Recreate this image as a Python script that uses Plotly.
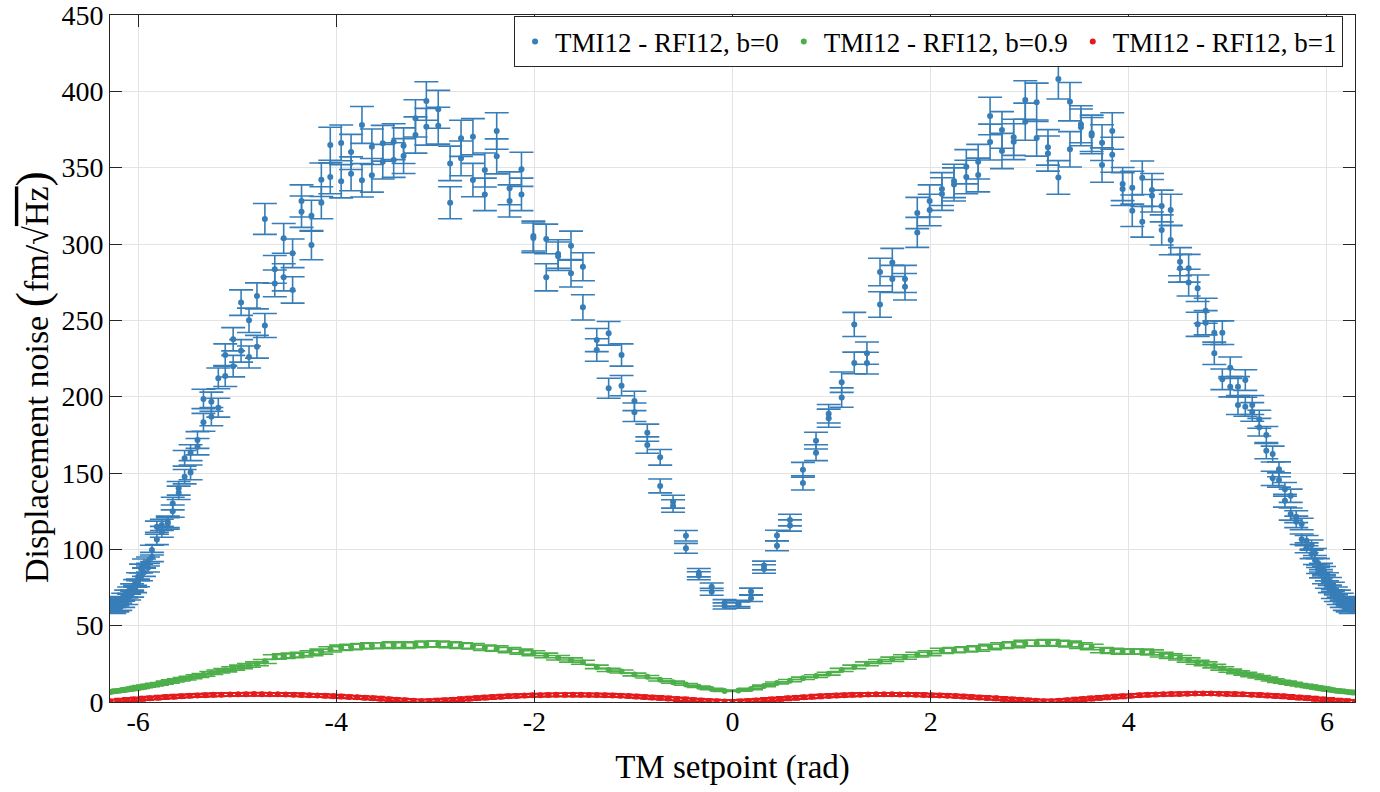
import plotly.graph_objects as go

# ---------------- data ----------------
setpoint_x = [
    -6.28, -6.26, -6.24, -6.21, -6.18, -6.15, -6.12, -6.09, -6.06, -6.03,
    -6.00, -5.97, -5.94, -5.90, -5.86, -5.81, -5.76, -5.70, -5.65, -5.59,
    -5.53, -5.47, -5.40, -5.34, -5.26, -5.19, -5.12, -5.04, -4.96, -4.88,
    -4.80, -4.72, -4.62, -4.53, -4.44, -4.35, -4.25, -4.15, -4.06, -3.95,
    -3.85, -3.74, -3.64, -3.53, -3.42, -3.32, -3.20, -3.09, -2.97, -2.85,
    -2.74, -2.62, -2.50, -2.38, -2.25, -2.13, -2.01, -1.88, -1.76, -1.63,
    -1.51, -1.37, -1.25, -1.12, -0.99, -0.86, -0.73, -0.60, -0.47, -0.34,
    -0.21, -0.08, 0.06, 0.187, 0.318, 0.449, 0.580, 0.711, 0.843, 0.971,
    1.102, 1.229, 1.357, 1.489, 1.613, 1.741, 1.865, 1.99, 2.114, 2.236,
    2.36, 2.48, 2.60, 2.72, 2.838, 2.955, 3.07, 3.184, 3.289, 3.406,
    3.517, 3.625, 3.73, 3.833, 3.938, 4.035, 4.136, 4.234, 4.332, 4.423,
    4.517, 4.604, 4.695, 4.776, 4.863, 4.944, 5.024, 5.102, 5.176, 5.246,
    5.317, 5.388, 5.452, 5.516, 5.576, 5.634, 5.69, 5.745, 5.795, 5.845,
    5.879, 5.91, 5.94, 5.97, 6.00, 6.03, 6.06, 6.09, 6.12, 6.15,
    6.18, 6.21, 6.24, 6.26, 6.28,
]

blue_run1 = [
    63, 64, 65, 66, 67, 69, 71, 73, 75, 77.7,
    82, 87.5, 90.8, 92, 99.5, 106.5, 111.5, 118, 130, 140,
    159.6, 163.3, 171.6, 198.5, 196.7, 212, 227.3, 237.6, 261.6, 250,
    266, 316.4, 283.4, 303.7, 293.9, 328.2, 318.5, 342.1, 364.8, 366.2,
    360.3, 378, 363.7, 366, 367, 364.4, 382.3, 393.7, 388.2, 352.8,
    369.2, 370.3, 348.5, 374, 336.5, 348.9, 305.2, 303.3, 293.4, 298.9,
    285.1, 237.1, 241.5, 227.3, 197.2, 176.4, 160.3, 131.2, 108.9, 84.7,
    75.5, 62.9, 64.6, 72.3, 89.4, 109, 119.2, 152.1, 171.2, 188.8,
    209.5, 247.3, 228.5, 281.7, 287.9, 277.1, 320.3, 328.2, 336, 341.3,
    350.6, 353.9, 383.8, 374.7, 369.9, 394.3, 392.8, 363.3, 408, 393.2,
    378.4, 372.5, 366.4, 374, 339.3, 336.9, 343.4, 335.4, 324.9, 322.3,
    288.4, 284.1, 271, 256.3, 241.9, 241.9, 219, 206.5, 210.9, 194.5,
    185.2, 174.9, 162.4, 152.4, 139.3, 135.1, 121.4, 116.6, 105.7, 102.8,
    97.4, 91, 88, 86, 82, 79, 76, 73, 71, 69,
    67, 66, 65, 64, 63,
]

blue_run2 = [
    66, 61, 60, 61, 62, 64, 66, 69, 71, 74,
    78, 82, 85, 88, 95, 114.8, 116, 117, 125, 137,
    147.6, 150.4, 167.2, 183.2, 186.9, 192.8, 213.5, 220, 230, 226,
    232.7, 246.6, 274.2, 278.2, 269.9, 321.2, 299.3, 327, 343.9, 341.1,
    346, 341.7, 345, 353.9, 355, 357.6, 371.4, 376.8, 377.5, 327,
    356.1, 341.9, 332.5, 357.4, 328.2, 332.5, 304, 278.2, 292, 280.8,
    258.5, 230.6, 205.5, 207.2, 189.8, 168.3, 141.5, 128.4, 100.7, 82.7,
    72.2, 65, 63.5, 68, 87.1, 102.3, 115.6, 143.5, 163.3, 185.9,
    199.4, 222.1, 222, 260.4, 277.1, 272, 307.6, 322.3, 332.7, 339,
    343.9, 345.2, 366.8, 360.9, 367, 380.1, 369.4, 359.2, 343.6, 362,
    376.4, 371, 351.7, 358.5, 336, 321.8, 314.6, 331.6, 309.2, 302.6,
    284.1, 274.7, 247.4, 248.4, 228.4, 211.4, 206.5, 194.5, 193.4, 190,
    180, 164.6, 146.5, 145.4, 131.9, 123.1, 118, 106.6, 101, 97,
    93, 87, 84, 80, 77, 74, 70, 68, 66, 64,
    62, 61, 60, 62, 66,
]

green_vals = [
    6.5, 6.8, 7, 7.2, 7.5, 7.8, 8, 8.3, 8.7, 9,
    9.3, 9.8, 10.2, 10.6, 11, 11.6, 12.2, 13, 13.8, 14.5,
    15.2, 16, 17, 17.8, 19, 20, 20.8, 22, 23, 24,
    25, 26.5, 29.5, 30, 30.5, 31, 32, 33, 34.5, 35.5,
    36, 36.5, 37, 37, 37.5, 37, 37.5, 38, 38, 37.5,
    37, 36.5, 35.5, 35, 34, 33, 32, 30.5, 29, 27.5,
    26, 23, 21, 20, 18, 16.5, 14.5, 13, 11.5, 10,
    8.5, 7.2, 7.5, 8.5, 10.5, 12.5, 14, 15.5, 17, 18.5,
    21, 23, 25, 26.5, 28, 29.5, 31, 32, 33.5, 34,
    34.5, 35, 36, 37, 37.5, 38.5, 38.5, 39, 38.5, 38,
    37, 36, 34, 33.5, 33, 33, 33, 32.5, 31, 30,
    29, 27.5, 26, 25, 23.5, 22, 20.5, 19.5, 18.5, 17.5,
    16.5, 15.5, 14.5, 13.5, 13, 12.3, 11.5, 11, 10.5, 10,
    9.7, 9.4, 9, 8.6, 8.3, 8, 7.7, 7.4, 7.2, 7,
    6.8, 6.6, 6.4, 6.3, 6.2,
]

red_x = [
    -6.28, -6.20, -6.12, -6.04, -5.96, -5.88, -5.80, -5.72, -5.64, -5.56,
    -5.48, -5.40, -5.32, -5.24, -5.16, -5.07, -4.99, -4.91, -4.83, -4.75,
    -4.67, -4.59, -4.51, -4.43, -4.35, -4.27, -4.19, -4.11, -4.03, -3.95,
    -3.87, -3.79, -3.71, -3.63, -3.55, -3.47, -3.39, -3.31, -3.22, -3.14,
    -3.06, -2.98, -2.90, -2.82, -2.74, -2.66, -2.58, -2.50, -2.42, -2.34,
    -2.26, -2.18, -2.10, -2.02, -1.94, -1.86, -1.78, -1.69, -1.61, -1.53,
    -1.45, -1.37, -1.29, -1.21, -1.13, -1.05, -0.97, -0.89, -0.81, -0.73,
    -0.65, -0.56, -0.48, -0.40, -0.32, -0.24, -0.16, -0.08, 0.00, 0.08,
    0.16, 0.24, 0.32, 0.40, 0.48, 0.56, 0.64, 0.72, 0.80, 0.89,
    0.97, 1.05, 1.13, 1.21, 1.29, 1.37, 1.45, 1.53, 1.61, 1.69,
    1.77, 1.85, 1.93, 2.01, 2.09, 2.17, 2.25, 2.33, 2.41, 2.49,
    2.57, 2.66, 2.74, 2.82, 2.90, 2.98, 3.06, 3.14, 3.22, 3.30,
    3.38, 3.46, 3.54, 3.62, 3.70, 3.78, 3.86, 3.94, 4.02, 4.11,
    4.19, 4.27, 4.35, 4.43, 4.51, 4.59, 4.67, 4.75, 4.83, 4.91,
    4.99, 5.07, 5.15, 5.24, 5.32, 5.40, 5.48, 5.56, 5.64, 5.72,
    5.80, 5.88, 5.96, 6.04, 6.12, 6.20, 6.28,
]

red_vals = [
    0.4, 0.8, 1.3, 1.7, 2.1, 2.5, 2.8, 3.2, 3.5, 3.8,
    4.1, 4.3, 4.5, 4.7, 4.8, 4.9, 5.0, 5.1, 5.2, 5.1,
    5.1, 5.0, 4.9, 4.8, 4.6, 4.4, 4.3, 4.1, 3.8, 3.6,
    3.3, 3.1, 2.8, 2.5, 2.1, 1.8, 1.4, 1.1, 0.8, 0.5,
    0.6, 0.9, 1.2, 1.5, 1.8, 2.2, 2.5, 2.9, 3.2, 3.5,
    3.8, 4.0, 4.2, 4.4, 4.5, 4.6, 4.7, 4.7, 4.7, 4.7,
    4.6, 4.6, 4.5, 4.3, 4.1, 3.9, 3.6, 3.3, 3.0, 2.7,
    2.3, 2.0, 1.6, 1.3, 1.0, 0.7, 0.5, 0.3, 0.2, 0.4,
    0.7, 1.0, 1.3, 1.7, 2.0, 2.4, 2.8, 3.1, 3.4, 3.8,
    4.0, 4.3, 4.5, 4.7, 4.8, 4.9, 5.0, 5.0, 5.0, 4.9,
    4.9, 4.8, 4.6, 4.5, 4.3, 4.1, 3.9, 3.6, 3.3, 3.0,
    2.7, 2.4, 2.0, 1.7, 1.4, 1.0, 0.8, 0.5, 0.5, 0.8,
    1.1, 1.5, 1.9, 2.3, 2.7, 3.1, 3.4, 3.8, 4.1, 4.4,
    4.7, 4.9, 5.1, 5.2, 5.3, 5.4, 5.5, 5.5, 5.5, 5.4,
    5.3, 5.2, 5.0, 4.8, 4.6, 4.3, 4.0, 3.7, 3.3, 2.9,
    2.5, 2.1, 1.7, 1.3, 0.9, 0.5, 0.2,
]

blue_rel_err_pct = 3.2     # relative uncertainty of b=0 points (%)
green_rel_err_pct = 5.0    # relative uncertainty of b=0.9 points (%)
red_abs_err = 1.0          # uncertainty of b=1 points

x_tick_vals = [-6, -4, -2, 0, 2, 4, 6]
x_tick_text = ["-6", "-4", "-2", "0", "2", "4", "6"]
y_tick_vals = [0, 50, 100, 150, 200, 250, 300, 350, 400, 450]

series_names = ["TMI12 - RFI12, b=0", "TMI12 - RFI12, b=0.9", "TMI12 - RFI12, b=1"]
x_title = "TM setpoint (rad)"
y_title = ("Displacement noise <span style='font-size:46px'>(</span>fm/√"
           "<span style='text-decoration:overline'>Hz</span>"
           "<span style='font-size:46px'>)</span>")

# ---------------- styling ----------------
BLUE = "#377eb8"
GREEN = "#4daf4a"
RED = "#e41a1c"
FONT = "Liberation Serif"
AXC = "#262626"

fig = go.Figure()

fig.add_trace(go.Scatter(
    x=setpoint_x + setpoint_x,
    y=blue_run1 + blue_run2,
    mode="markers",
    name=series_names[0],
    marker=dict(color=BLUE, size=6),
    error_y=dict(type="percent", value=blue_rel_err_pct, color=BLUE,
                 thickness=1.6, width=12),
))

fig.add_trace(go.Scatter(
    x=setpoint_x,
    y=green_vals,
    mode="markers",
    name=series_names[1],
    marker=dict(color=GREEN, size=6),
    error_y=dict(type="percent", value=green_rel_err_pct, color=GREEN,
                 thickness=1.6, width=12),
))

fig.add_trace(go.Scatter(
    x=red_x,
    y=red_vals,
    mode="markers",
    name=series_names[2],
    marker=dict(color=RED, size=6),
    error_y=dict(type="constant", value=red_abs_err, color=RED,
                 thickness=1.6, width=12),
))

axis_common = dict(
    showline=True, linecolor=AXC, linewidth=1, mirror="ticks",
    ticks="inside", ticklen=12, tickcolor=AXC, tickwidth=1,
    showgrid=True, gridcolor="#e3e3e3", gridwidth=1, zeroline=False,
    tickfont=dict(family=FONT, size=28, color="#000000"),
    automargin=False, ticklabeloverflow="allow",
)

fig.update_layout(
    width=1380, height=792,
    margin=dict(l=110, r=25, t=15, b=90),
    paper_bgcolor="white", plot_bgcolor="white",
    font=dict(family=FONT, color="#000000"),
    showlegend=True,
    legend=dict(
        orientation="h", x=0.9904, xanchor="right", y=0.998, yanchor="top",
        bgcolor="white", bordercolor=AXC, borderwidth=1,
        font=dict(family=FONT, size=27, color="#000000"),
        itemsizing="trace",
    ),
    xaxis=dict(
        range=[-6.2832, 6.2832], tickvals=x_tick_vals, ticktext=x_tick_text,
        ticklabelstandoff=-6,
        title=dict(text=x_title, font=dict(family=FONT, size=33), standoff=19),
        **axis_common,
    ),
    yaxis=dict(
        range=[0, 450], tickvals=y_tick_vals,
        **axis_common,
    ),
    annotations=[dict(
        text=y_title, textangle=-90, showarrow=False,
        xref="paper", yref="paper", x=-0.0627, y=0.473,
        xanchor="center", yanchor="middle",
        font=dict(family=FONT, size=34, color="#000000"),
    )],
)

fig.write_html("out.html", config={"displayModeBar": False},
               post_script="document.body.style.margin='0';")
